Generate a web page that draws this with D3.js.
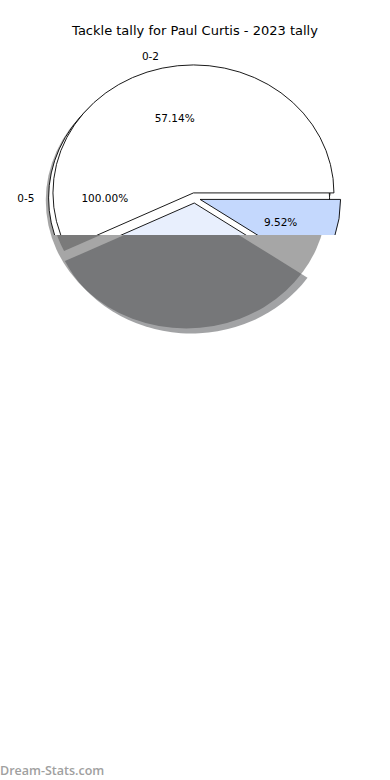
<!DOCTYPE html>
<html><head><meta charset="utf-8">
<script src="https://cdn.jsdelivr.net/npm/d3@7"></script>
<style>html,body{margin:0;padding:0;background:#fff}svg{display:block}</style>
</head><body>
<script>
// ---- data ----
const title = "Tackle tally for Paul Curtis - 2023 tally";
const backLabels = ["0-5"];
const backValues = [1];
const frontLabels = ["0-2", "0-3", "0-1"];
const frontValues = [12, 7, 2];
const frontColors = ["#ffffff", "#e8effd", "#c4d8fd"];
const backColors = ["#ffffff"];
const watermark = "Dream-Stats.com";

// ---- layout ----
const W = 390, H = 780;
const cx = 194.7, cy = 197.9, rx = 140.5, ry = 128;
const explode = 0.04, shadowOff = 0.02, clipY = 235;

const x = d3.scaleLinear().domain([-1, 1]).range([cx - rx, cx + rx]);
const y = d3.scaleLinear().domain([-1, 1]).range([cy + ry, cy - ry]);

const svg = d3.select("body").append("svg").attr("width", W).attr("height", H);
svg.append("defs").append("clipPath").attr("id", "topclip")
  .append("rect").attr("x", 0).attr("y", 0).attr("width", W).attr("height", clipY);

svg.append("text").attr("x", W / 2).attr("y", 35).attr("text-anchor", "middle")
  .attr("font-family", "DejaVu Sans").attr("font-size", 13).attr("fill", "#000").text(title);

function wedges(values) {
  const total = d3.sum(values);
  let t = 0;
  return values.map((v, i) => {
    const t1 = t, t2 = t + v / total * 2 * Math.PI;
    t = t2;
    const mid = (t1 + t2) / 2;
    return { i, v, frac: v / total, t1, t2, mid, ox: explode * Math.cos(mid), oy: explode * Math.sin(mid) };
  });
}
const back = wedges(backValues), front = wedges(frontValues);
const arc = d3.arc().innerRadius(0).outerRadius(1);
function wedgePath(w) {
  return arc({ startAngle: Math.PI / 2 - w.t1, endAngle: Math.PI / 2 - w.t2 });
}
function place(sel, dx, dy) {
  return sel.attr("transform", d => `translate(${x(d.ox + dx)},${y(d.oy + dy)}) scale(${rx},${ry})`);
}
function shade(c) {
  const k = d3.rgb(c); return d3.rgb(k.r * 0.3, k.g * 0.3, k.b * 0.3).toString();
}

// shadows (drawn under all wedges)
const sh = svg.append("g");
const shadowSet = back.map(d => ({ ...d, col: backColors[d.i] }))
  .concat(front.filter(d => d.i < 2).map(d => ({ ...d, col: frontColors[d.i] })));
place(sh.selectAll("path").data(shadowSet).join("path"), -shadowOff, -shadowOff)
  .attr("d", wedgePath).attr("fill", d => shade(d.col)).attr("fill-opacity", 0.5);

// wedges
const g = svg.append("g").attr("clip-path", "url(#topclip)");
place(g.selectAll("path.b").data(back).join("path").attr("class", "b"), 0, 0)
  .attr("d", wedgePath).attr("fill", d => backColors[d.i])
  .attr("stroke", "#000").attr("stroke-width", 0.9).attr("vector-effect", "non-scaling-stroke");
place(g.selectAll("path.f").data(front).join("path").attr("class", "f"), 0, 0)
  .attr("d", wedgePath).attr("fill", d => frontColors[d.i])
  .attr("stroke", "#000").attr("stroke-width", 0.9).attr("vector-effect", "non-scaling-stroke")
  .attr("stroke-linejoin", "miter");

// labels
function addLabels(ws, labels) {
  ws.forEach(w => {
    const lx = w.ox + 1.1 * Math.cos(w.mid), ly = w.oy + 1.1 * Math.sin(w.mid);
    g.append("text").attr("x", x(lx)).attr("y", y(ly))
      .attr("text-anchor", Math.cos(w.mid) < 0 ? "end" : "start")
      .attr("dominant-baseline", "central")
      .attr("font-family", "DejaVu Sans").attr("font-size", 10.5).text(labels[w.i]);
    const px = w.ox + 0.6 * Math.cos(w.mid), py = w.oy + 0.6 * Math.sin(w.mid);
    g.append("text").attr("x", x(px)).attr("y", y(py))
      .attr("text-anchor", "middle").attr("dominant-baseline", "central")
      .attr("font-family", "DejaVu Sans").attr("font-size", 10.5)
      .text((w.frac * 100).toFixed(2) + "%");
  });
}
addLabels(back, backLabels);
addLabels(front, frontLabels);

svg.append("text").attr("x", 0).attr("y", 775)
  .attr("font-family", "Open Sans").attr("font-weight", 600).attr("font-size", 12.5)
  .attr("fill", "#a0a0a0").text(watermark);
</script>
</body></html>
